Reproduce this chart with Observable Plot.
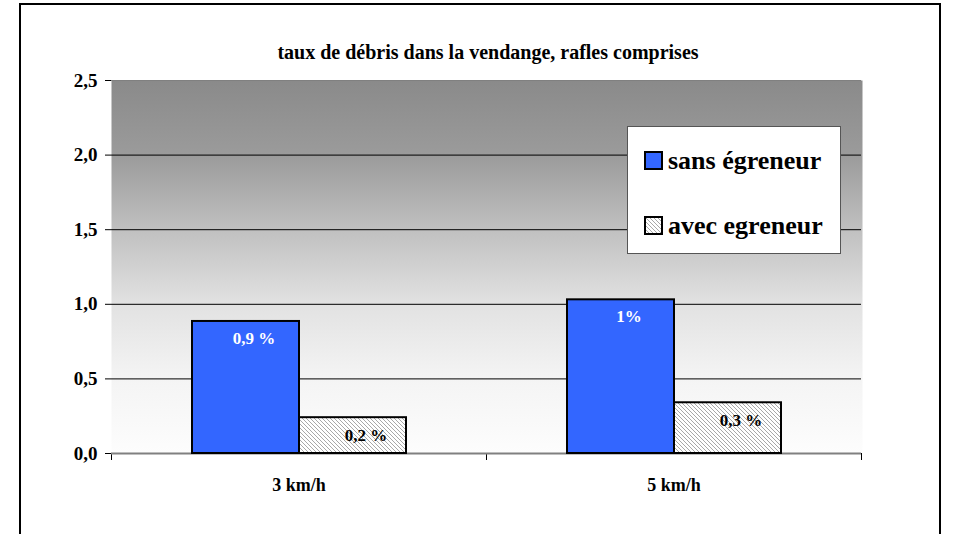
<!DOCTYPE html>
<html>
<head>
<meta charset="utf-8">
<script src="https://cdn.jsdelivr.net/npm/d3@7"></script>
<script src="https://cdn.jsdelivr.net/npm/@observablehq/plot@0.6"></script>
<style>
  body { margin: 0; background: #fff; }
  #wrap { position: relative; width: 957px; height: 534px; overflow: hidden; font-family: "Liberation Serif", "Times New Roman", serif; font-weight: bold; color: #000; }
  #border { position: absolute; left: 19px; top: 3px; width: 922px; height: 560px; border: 2px solid #000; box-sizing: border-box; }
  #title { position: absolute; left: 0; width: 976px; top: 42px; text-align: center; font-size: 20px; line-height: 20px; }
  #chart { position: absolute; left: 0; top: 0; }
  #legend { position: absolute; left: 627px; top: 126px; width: 214px; height: 128px; box-sizing: border-box; border: 1px solid #555; background: #fff; }
  .sw { position: absolute; left: 16px; }
  .lt { position: absolute; left: 40px; font-size: 26px; line-height: 26px; white-space: nowrap; }
</style>
</head>
<body>
<div id="wrap">
  <div id="chart"></div>
  <div id="border"></div>
  <div id="title">taux de débris dans la vendange, rafles comprises</div>
  <div id="legend"></div>
</div>
<script>
const categories = ["3 km/h", "5 km/h"];
const series = ["sans égreneur", "avec egreneur"];
const sansValues = [0.885, 1.03];
const avecValues = [0.24, 0.34];
const sansLabels = ["0,9 %", "1%"];
const avecLabels = ["0,2 %", "0,3 %"];
const yTicks = [0, 0.5, 1.0, 1.5, 2.0, 2.5];
const gridValues = [0.5, 1.0, 1.5, 2.0];

const blue = "#3366ff";
const data = [];
categories.forEach((c, i) => {
  data.push({cat: c, series: series[0], value: sansValues[i], label: sansLabels[i]});
  data.push({cat: c, series: series[1], value: avecValues[i], label: avecLabels[i]});
});

const W = 957, H = 534, mT = 80, mB = 81, mL = 111, mR = 96;
const plotH = H - mT - mB;
const fmt = d => d.toFixed(1).replace(".", ",");

const plot = Plot.plot({
  width: W, height: H,
  marginLeft: mL, marginRight: mR, marginTop: mT, marginBottom: mB,
  style: {fontFamily: "Liberation Serif, Times New Roman, serif", fontWeight: "bold", fontSize: "17px", color: "#000", background: "transparent", overflow: "visible"},
  fx: {domain: categories, padding: 0, label: null},
  x: {domain: series, paddingInner: 0, paddingOuter: 0.74, axis: null},
  y: {domain: [0, 2.5], label: null},
  marks: [
    Plot.frame({fill: "url(#bg)", stroke: "none", insetRight: -1}),
    Plot.ruleY(gridValues, {stroke: "#000", strokeWidth: 1}),
    Plot.ruleY([2.5], {stroke: "#808080", strokeWidth: 1}),
    Plot.frame({anchor: "left", stroke: "#000", insetTop: plotH, insetBottom: -6}),
    Plot.frame({anchor: "right", stroke: "#000", insetTop: plotH, insetBottom: -6}),
    Plot.axisY({ticks: yTicks, line: true, tickSize: 0, tickFormat: () => "", stroke: "#808080", strokeWidth: 2, label: null}),
    Plot.ruleY([0], {stroke: "#808080", strokeWidth: 2}),
    Plot.barY(data.filter(d => d.series === series[0]), {fx: "cat", x: "series", y: "value", fill: blue, stroke: "#000", strokeWidth: 2}),
    Plot.barY(data.filter(d => d.series === series[1]), {fx: "cat", x: "series", y: "value", fill: "url(#hatch)", stroke: "#000", strokeWidth: 2}),
    Plot.text(data.filter(d => d.series === series[0]), {fx: "cat", x: "series", y: "value", text: "label", fill: "#fff", dy: 17, dx: 8, fontSize: 17, fontWeight: "bold"}),
    Plot.text(data.filter(d => d.series === series[1]), {fx: "cat", x: "series", y: "value", text: "label", fill: "#000", dy: 18, dx: 13, fontSize: 17, fontWeight: "bold"}),
    Plot.axisY({ticks: yTicks, tickFormat: fmt, tickSize: 6, tickPadding: 8, fontSize: 19, label: null}),
    Plot.axisFx({anchor: "bottom", tickSize: 0, tickPadding: 25, fontSize: 18, label: null})
  ]
});

const svgNS = "http://www.w3.org/2000/svg";
const defs = document.createElementNS(svgNS, "defs");
defs.innerHTML = `
  <linearGradient id="bg" x1="0" y1="0" x2="0" y2="1">
    <stop offset="0" stop-color="#8a8a8a"/>
    <stop offset="0.2" stop-color="#9b9b9b"/>
    <stop offset="0.4" stop-color="#c0c0c0"/>
    <stop offset="0.6" stop-color="#e2e2e2"/>
    <stop offset="0.8" stop-color="#f4f4f4"/>
    <stop offset="1" stop-color="#fdfdfd"/>
  </linearGradient>
  <pattern id="hatch" width="4" height="4" patternUnits="userSpaceOnUse">
    <rect width="4" height="4" fill="#ffffff"/>
    <path d="M-1,-1 L5,5 M-1,3 L1,5 M3,-1 L5,1" stroke="#a8a8a8" stroke-width="1"/>
  </pattern>`;
const svgEl = plot.tagName.toLowerCase() === "svg" ? plot : plot.querySelector("svg");
svgEl.insertBefore(defs, svgEl.firstChild);
document.getElementById("chart").appendChild(plot);

// legend
const legend = document.getElementById("legend");
const entries = [
  {label: series[0], fill: blue, swTop: 24, textTop: 21},
  {label: series[1], fill: "url(#hatchL)", swTop: 89, textTop: 86}
];
entries.forEach(s => {
  const sw = document.createElement("div");
  sw.className = "sw";
  sw.style.top = s.swTop + "px";
  sw.innerHTML = `<svg width="19" height="19"><defs><pattern id="hatchL" width="4" height="4" patternUnits="userSpaceOnUse"><rect width="4" height="4" fill="#fff"/><path d="M-1,-1 L5,5 M-1,3 L1,5 M3,-1 L5,1" stroke="#a8a8a8" stroke-width="1"/></pattern></defs><rect x="1" y="1" width="17" height="17" fill="${s.fill}" stroke="#000" stroke-width="2"/></svg>`;
  legend.appendChild(sw);
  const t = document.createElement("div");
  t.className = "lt";
  t.style.top = s.textTop + "px";
  t.textContent = s.label;
  legend.appendChild(t);
});
</script>
</body>
</html>
